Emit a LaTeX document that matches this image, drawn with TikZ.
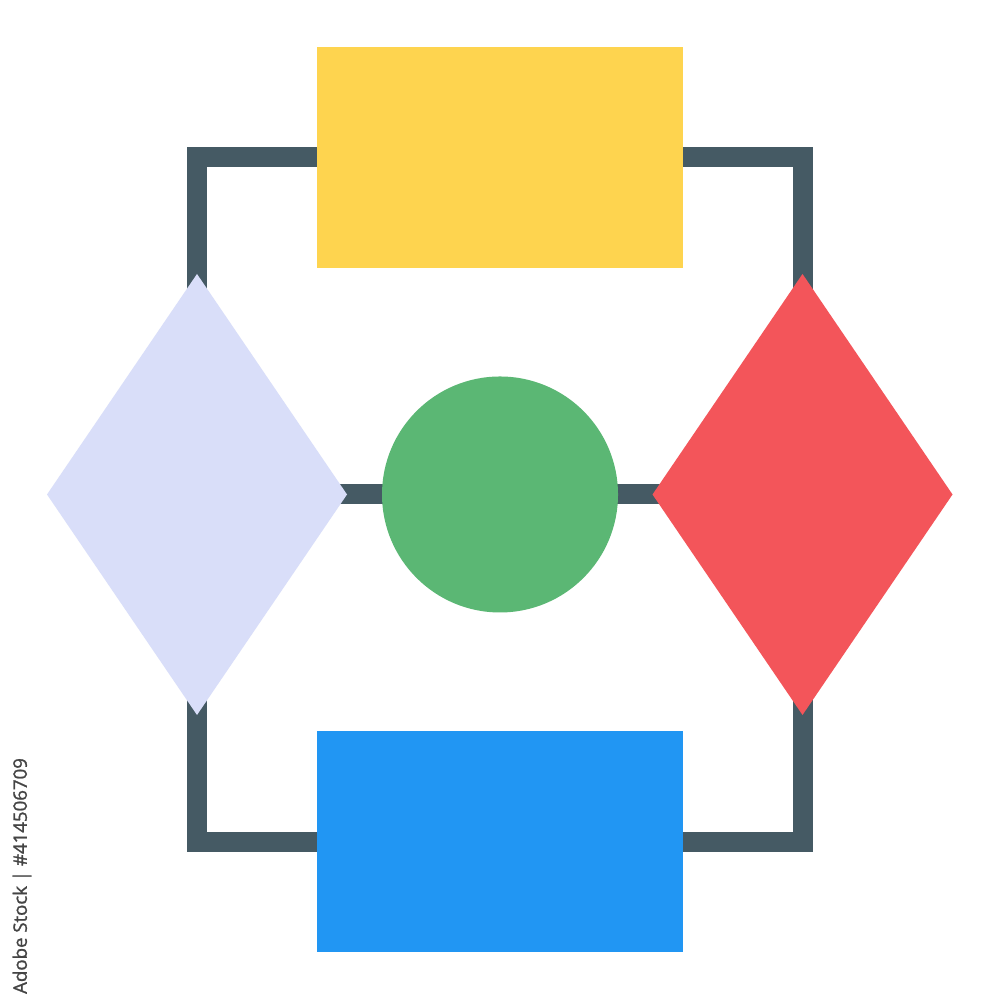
\documentclass[tikz,border=0pt]{standalone}
\usepackage{fontspec}
\newfontfamily\wmfont[FakeBold=1.2]{Open Sans}
\usetikzlibrary{shapes.geometric,backgrounds}
\definecolor{linec}{HTML}{455A64}
\definecolor{yel}{HTML}{FED44F}
\definecolor{lav}{HTML}{D9DEF9}
\definecolor{redd}{HTML}{F3555A}
\definecolor{grn}{HTML}{5BB774}
\definecolor{blu}{HTML}{2196F3}
\definecolor{wm}{HTML}{444444}
\tikzset{
  rectbox/.style={rectangle, inner sep=0pt, outer sep=0pt, minimum width=3.66cm, minimum height=2.21cm, draw=none},
  diam/.style={diamond, inner sep=0pt, outer sep=0pt, minimum width=3cm, minimum height=4.41cm, draw=none},
  conn/.style={draw=linec, line width=0.2cm, line join=miter, shorten <=-0.5cm, shorten >=-0.5cm},
}
\begin{document}
\begin{tikzpicture}
\useasboundingbox (0,0) rectangle (10,10);
\node[rectbox, fill=yel] (top) at (5.00,8.425) {};
\node[rectbox, fill=blu] (bot) at (5.00,1.58) {};
\node[diam, fill=lav] (ld) at (1.97,5.055) {};
\node[diam, fill=redd] (rd) at (8.025,5.055) {};
\node[circle, inner sep=0pt, outer sep=0pt, minimum size=2.36cm, fill=grn] (mid) at (5.00,5.055) {};
\begin{pgfonlayer}{background}
\fill[white] (0,0) rectangle (10,10);
\draw[conn] (top.west |- 0,8.43) -| (ld.north);
\draw[conn] (top.east |- 0,8.43) -| (rd.north);
\draw[conn] (bot.west) -| (ld.south);
\draw[conn] (bot.east) -| (rd.south);
\draw[conn] (ld.east) -- (rd.west);
\end{pgfonlayer}
\node[rotate=90, text=wm, font=\wmfont\fontsize{5.3pt}{6pt}\selectfont, inner sep=0pt] (wmtext) at (0.22,1.24) {Adobe Stock | \#414506709};
\end{tikzpicture}
\end{document}
